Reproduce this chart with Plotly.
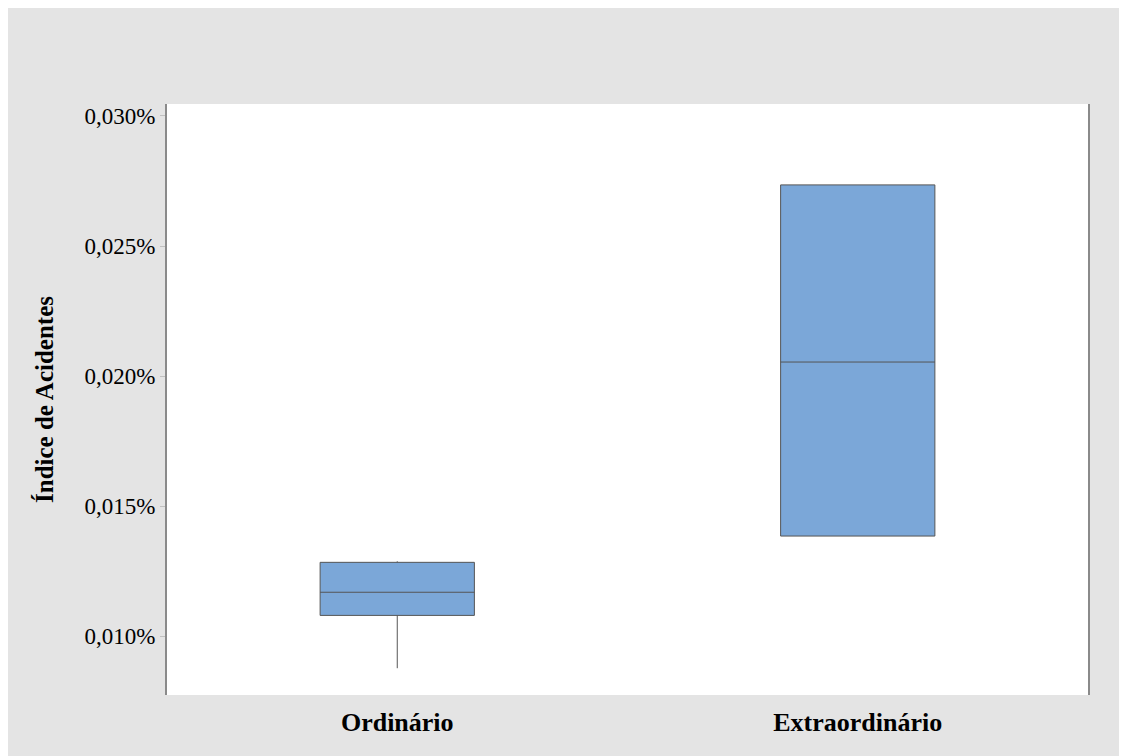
import plotly.graph_objects as go

categories = ["Ordinário", "Extraordinário"]
q1 = [0.0108, 0.01385]
median = [0.01169, 0.02054]
q3 = [0.01284, 0.02735]
lowerfence = [0.00877, 0.01385]
upperfence = [0.01288, 0.02735]
tick_vals = [0.010, 0.015, 0.020, 0.025, 0.030]
tick_text = ["0,010%", "0,015%", "0,020%", "0,025%", "0,030%"]

fig = go.Figure()
fig.add_trace(go.Box(
    x=categories, q1=q1, median=median, q3=q3,
    lowerfence=lowerfence, upperfence=upperfence,
    fillcolor="#7ba7d8", line=dict(color="#555555", width=1),
    whiskerwidth=0, width=0.335, boxpoints=False, showlegend=False,
    hoverinfo="y",
))

fig.update_layout(
    width=1127, height=756,
    paper_bgcolor="#e4e4e4", plot_bgcolor="#ffffff",
    margin=dict(l=159, r=47, t=96, b=69),
    font=dict(family="Liberation Serif", color="#000000"),
    xaxis=dict(
        type="category", range=[-0.5, 1.5], showgrid=False,
        showline=False, zeroline=False, ticks="",
        tickvals=categories, ticktext=["<b>%s</b>" % c for c in categories],
        tickfont=dict(size=26, family="Liberation Serif"),
        ticklabelstandoff=9,
    ),
    yaxis=dict(
        range=[0.00774, 0.03046], tickvals=tick_vals, ticktext=tick_text,
        showgrid=False, zeroline=False, showline=True, linecolor="#8a8a8a",
        linewidth=2, mirror=True, ticks="outside", ticklen=5, tickcolor="#c0c0c0",
        tickfont=dict(size=23, family="Liberation Serif"),
        title=dict(text="<b>Índice de Acidentes</b>", font=dict(size=25, family="Liberation Serif"), standoff=24),
    ),
)
fig.write_html("out.html")
